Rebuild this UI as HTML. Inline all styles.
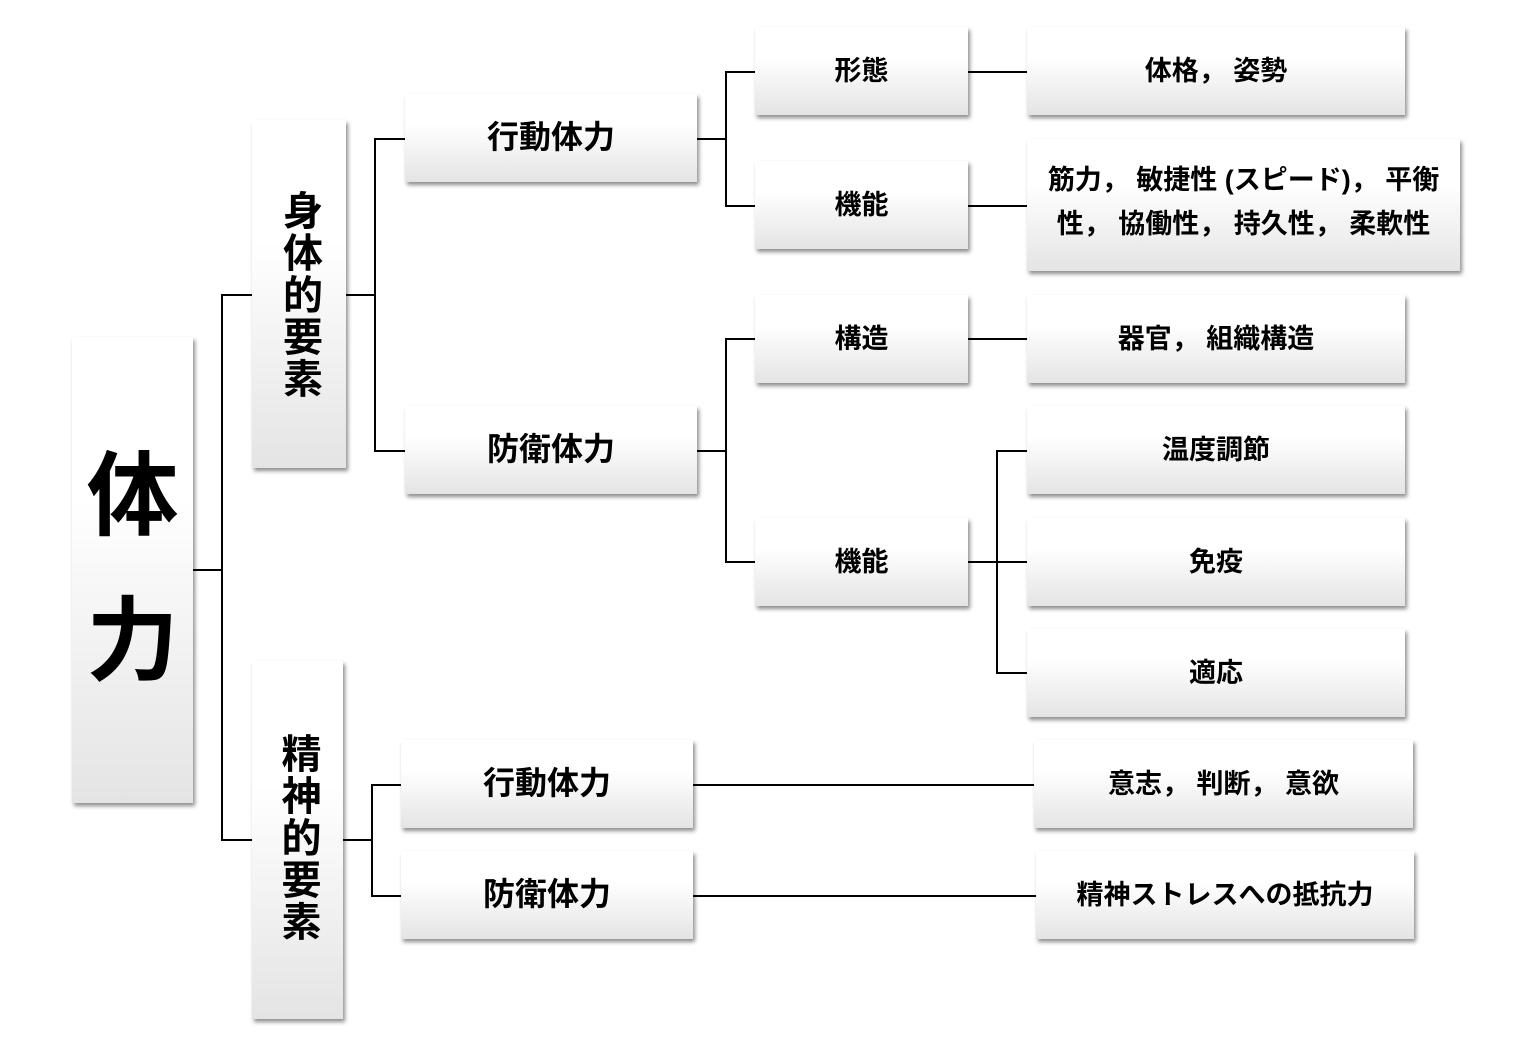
<!DOCTYPE html>
<html><head><meta charset="utf-8"><style>
body{margin:0;width:1517px;height:1051px;background:#fff;position:relative;overflow:hidden;font-family:"Liberation Sans","Noto Sans CJK JP",sans-serif;font-weight:bold;color:#000}
.b{position:absolute;box-sizing:border-box;background:linear-gradient(#fff 0%,#fff 35%,#e4e4e4 100%);box-shadow:2px 3px 4px rgba(0,0,0,0.45);display:flex;align-items:center;justify-content:center;text-align:center;padding-bottom:6px}
.l{position:absolute;background:#000}
.v{writing-mode:vertical-rl;text-orientation:upright;letter-spacing:2px}
.s{font-size:27px}
</style></head><body>
<div class="b" style="left:72px;top:337px;width:121px;height:466px;font-size:92px;flex-direction:column;line-height:145px;padding-bottom:0">体<br>力</div>
<div class="b" style="left:252px;top:120px;width:94px;height:348px;font-size:40px;align-items:flex-start;padding-top:70px"><span class="v">身体的要素</span></div>
<div class="b" style="left:252px;top:661px;width:91px;height:358px;font-size:40px;align-items:flex-start;padding-top:72px"><span class="v">精神的要素</span></div>
<div class="b" style="left:405px;top:94px;width:292px;height:88px;font-size:32px">行動体力</div>
<div class="b" style="left:405px;top:406px;width:292px;height:88px;font-size:32px">防衛体力</div>
<div class="b" style="left:401px;top:740px;width:292px;height:88px;font-size:32px">行動体力</div>
<div class="b" style="left:401px;top:851px;width:292px;height:88px;font-size:32px">防衛体力</div>
<div class="b s" style="left:755px;top:27px;width:213px;height:88px">形態</div>
<div class="b s" style="left:755px;top:161px;width:213px;height:88px">機能</div>
<div class="b s" style="left:755px;top:295px;width:213px;height:88px">構造</div>
<div class="b s" style="left:755px;top:518px;width:213px;height:88px">機能</div>
<div class="b s" style="left:1027px;top:27px;width:378px;height:88px">体格，&nbsp;姿勢</div>
<div class="b s" style="left:1027px;top:139px;width:433px;height:132px;line-height:44px;padding:0 6px 6px">筋力，&nbsp;敏捷性 (スピード)，&nbsp;平衡性，&nbsp;協働性，&nbsp;持久性，&nbsp;柔軟性</div>
<div class="b s" style="left:1027px;top:295px;width:378px;height:88px">器官，&nbsp;組織構造</div>
<div class="b s" style="left:1027px;top:406px;width:378px;height:88px">温度調節</div>
<div class="b s" style="left:1027px;top:518px;width:378px;height:88px">免疫</div>
<div class="b s" style="left:1027px;top:629px;width:378px;height:88px">適応</div>
<div class="b s" style="left:1034px;top:740px;width:379px;height:88px">意志，&nbsp;判断，&nbsp;意欲</div>
<div class="b s" style="left:1036px;top:851px;width:378px;height:88px">精神ストレスへの抵抗力</div>
<!-- lines -->
<div class="l" style="left:193px;top:569px;width:30px;height:2px"></div>
<div class="l" style="left:221px;top:294px;width:2px;height:547px"></div>
<div class="l" style="left:221px;top:294px;width:31px;height:2px"></div>
<div class="l" style="left:221px;top:839px;width:31px;height:2px"></div>
<div class="l" style="left:346px;top:294px;width:30px;height:2px"></div>
<div class="l" style="left:374px;top:138px;width:2px;height:314px"></div>
<div class="l" style="left:374px;top:138px;width:31px;height:2px"></div>
<div class="l" style="left:374px;top:450px;width:31px;height:2px"></div>
<div class="l" style="left:343px;top:839px;width:30px;height:2px"></div>
<div class="l" style="left:371px;top:784px;width:2px;height:112px"></div>
<div class="l" style="left:371px;top:784px;width:30px;height:2px"></div>
<div class="l" style="left:371px;top:895px;width:30px;height:2px"></div>
<div class="l" style="left:697px;top:138px;width:30px;height:2px"></div>
<div class="l" style="left:725px;top:71px;width:2px;height:136px"></div>
<div class="l" style="left:725px;top:71px;width:30px;height:2px"></div>
<div class="l" style="left:725px;top:205px;width:30px;height:2px"></div>
<div class="l" style="left:697px;top:450px;width:30px;height:2px"></div>
<div class="l" style="left:725px;top:338px;width:2px;height:225px"></div>
<div class="l" style="left:725px;top:338px;width:30px;height:2px"></div>
<div class="l" style="left:725px;top:561px;width:30px;height:2px"></div>
<div class="l" style="left:968px;top:71px;width:59px;height:2px"></div>
<div class="l" style="left:968px;top:205px;width:59px;height:2px"></div>
<div class="l" style="left:968px;top:338px;width:59px;height:2px"></div>
<div class="l" style="left:968px;top:561px;width:30px;height:2px"></div>
<div class="l" style="left:996px;top:450px;width:2px;height:224px"></div>
<div class="l" style="left:996px;top:450px;width:31px;height:2px"></div>
<div class="l" style="left:996px;top:561px;width:31px;height:2px"></div>
<div class="l" style="left:996px;top:672px;width:31px;height:2px"></div>
<div class="l" style="left:693px;top:784px;width:341px;height:2px"></div>
<div class="l" style="left:693px;top:895px;width:343px;height:2px"></div>
</body></html>
